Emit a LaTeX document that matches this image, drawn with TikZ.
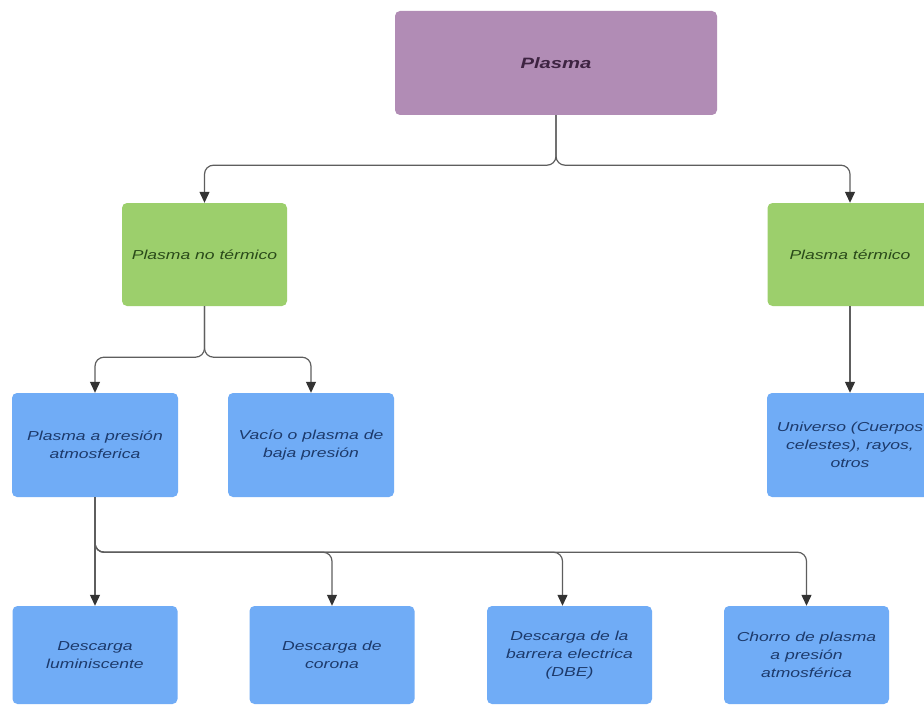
\documentclass[tikz,border=0pt]{standalone}
\usepackage{fontspec}
\newfontfamily\boxfont[FakeStretch=1.35]{Liberation Sans}
\usetikzlibrary{arrows.meta}
\definecolor{rootfill}{HTML}{B18CB5}
\definecolor{roottext}{HTML}{3E2442}
\definecolor{greenfill}{HTML}{9CCF6C}
\definecolor{greentext}{HTML}{2A4A1A}
\definecolor{bluefill}{HTML}{70ACF6}
\definecolor{bluetext}{HTML}{1D3A6B}
\definecolor{wire}{HTML}{5E5E5E}
\definecolor{tipcol}{HTML}{333333}
\begin{document}
\begin{tikzpicture}[x=1pt,y=-1pt,
  box/.style={rounded corners=5pt, inner sep=2pt, align=center,
    font=\boxfont\itshape\fontsize{13}{18}\selectfont},
  rootbox/.style={box, fill=rootfill, text=roottext,
    minimum width=322pt, minimum height=104pt,
    font=\boxfont\bfseries\itshape\fontsize{15}{18}\selectfont},
  greenbox/.style={box, fill=greenfill, text=greentext,
    minimum width=165pt, minimum height=103pt},
  bluebox/.style={box, fill=bluefill, text=bluetext,
    minimum width=166pt, minimum height=104pt},
  leafbox/.style={box, fill=bluefill, text=bluetext,
    minimum width=165pt, minimum height=98pt},
  link/.style={draw=wire, line width=1.2pt, rounded corners=9pt,
    -{Triangle[width=10pt,length=11pt,color=tipcol]}}
]
% page frame
\useasboundingbox (0,0) rectangle (924,706);
\clip (0,0) rectangle (924,706);
\fill[white] (0,0) rectangle (924,706);

% nodes
\node[rootbox]  (plasma) at (556,63)    {Plasma};
\node[greenbox] (noterm) at (204.5,254.5) {Plasma no térmico};
\node[greenbox] (term)   at (850,254.5) {Plasma térmico};
\node[bluebox]  (atm)    at (95,445)    {Plasma a presión\\atmosferica};
\node[bluebox]  (vacio)  at (311,445)   {Vacío o plasma de\\baja presión};
\node[bluebox]  (univ)   at (850,445)   {Universo (Cuerpos\\celestes), rayos,\\otros};
\node[leafbox]  (lum)    at (95,655)    {Descarga\\luminiscente};
\node[leafbox]  (cor)    at (332,655)   {Descarga de\\corona};
\node[leafbox]  (dbe)    at (569.5,655) {Descarga de la\\barrera electrica\\(DBE)};
\node[leafbox]  (chorro) at (806.5,655) {Chorro de plasma\\a presión\\atmosférica};

% connectors
\draw[link] (plasma.south) -- ++(0,50) -| (noterm.north);
\draw[link] (plasma.south) -- ++(0,50) -| (term.north);
\draw[link] (noterm.south) -- ++(0,51) -| (atm.north);
\draw[link] (noterm.south) -- ++(0,51) -| (vacio.north);
\draw[link] (term.south) -- (univ.north);
\draw[link] (atm.south) -- (lum.north);
\draw[link] (atm.south) -- ++(0,55) -| (cor.north);
\draw[link] (atm.south) -- ++(0,55) -| ([xshift=-7pt]dbe.north);
\draw[link] (atm.south) -- ++(0,55) -| (chorro.north);
\end{tikzpicture}
\end{document}
